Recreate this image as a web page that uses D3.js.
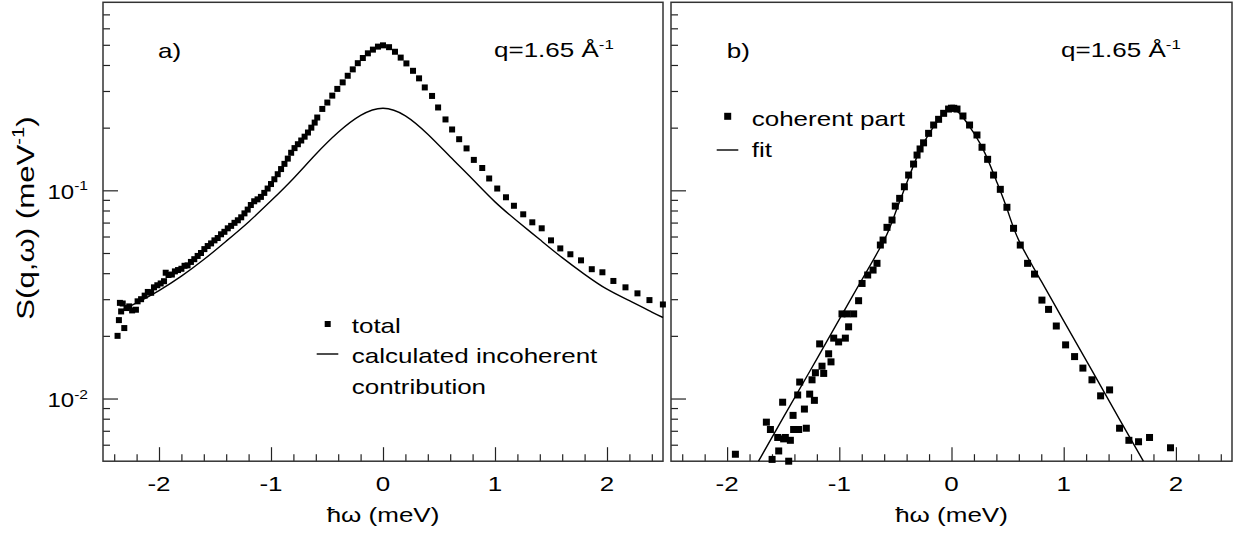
<!DOCTYPE html>
<html>
<head>
<meta charset="utf-8">
<script src="https://cdn.jsdelivr.net/npm/d3@7/dist/d3.min.js"></script>
<style>
  body { margin: 0; background: #fff; }
  svg { display: block; font-family: "Liberation Sans", Arial, sans-serif; }
</style>
</head>
<body>
<div id="chart-area"></div>
<script>
const WIDTH = 1250;
const HEIGHT = 538;
const TOP = 2.3, BOTTOM = 461.2;
const FONT_SIZE = 20;
const TEXT_STRETCH = 1.3;   // the original lettering is wide

// panel a) -- measured total S(q,w)
const totalOmega = [
  -2.370, -2.358, -2.349, -2.338, -2.324, -2.310, -2.290, -2.266, -2.240, -2.206,
  -2.191, -2.160, -2.128, -2.100, -2.070, -2.045, -2.015, -1.985, -1.955, -1.940,
  -1.915, -1.885, -1.858, -1.830, -1.800, -1.772, -1.745, -1.715, -1.685, -1.655,
  -1.625, -1.595, -1.565, -1.535, -1.505, -1.476, -1.446, -1.416, -1.386, -1.356,
  -1.326, -1.296, -1.266, -1.237, -1.208, -1.180, -1.150, -1.120, -1.090, -1.060,
  -1.030, -1.000, -0.970, -0.940, -0.910, -0.880, -0.850, -0.820, -0.790, -0.760,
  -0.730, -0.700, -0.670, -0.640, -0.610, -0.587, -0.542, -0.497, -0.453, -0.408,
  -0.360, -0.315, -0.270, -0.225, -0.180, -0.135, -0.090, -0.045, 0.000,
  0.054, 0.107, 0.158, 0.209, 0.268, 0.322, 0.373, 0.438, 0.492, 0.558,
  0.617, 0.680, 0.746, 0.811, 0.886, 0.948, 1.020, 1.098, 1.169, 1.252,
  1.333, 1.417, 1.500, 1.583, 1.673, 1.768, 1.864, 1.959, 2.057, 2.165,
  2.272, 2.379, 2.499
];
const totalS = [
  0.0200, 0.0238, 0.0288, 0.0262, 0.0286, 0.0218, 0.0272, 0.0277, 0.0265, 0.0267,
  0.0293, 0.0300, 0.0312, 0.0325, 0.0322, 0.0342, 0.0350, 0.0357, 0.0366, 0.0402,
  0.0392, 0.0394, 0.0408, 0.0414, 0.0420, 0.0434, 0.0436, 0.0453, 0.0467, 0.0484,
  0.0500, 0.0522, 0.0540, 0.0556, 0.0575, 0.0590, 0.0615, 0.0632, 0.0657, 0.0675,
  0.0698, 0.0718, 0.0742, 0.0775, 0.0808, 0.0850, 0.0886, 0.0905, 0.0930, 0.0972,
  0.1020, 0.1072, 0.1130, 0.1195, 0.1265, 0.1340, 0.1420, 0.1515, 0.1595, 0.1665,
  0.1735, 0.1810, 0.1895, 0.2000, 0.2115, 0.2237, 0.2460, 0.2640, 0.2850, 0.3070,
  0.3300, 0.3550, 0.3810, 0.4080, 0.4320, 0.4550, 0.4740, 0.4900, 0.4970,
  0.487, 0.463, 0.434, 0.407, 0.375, 0.345, 0.312, 0.284, 0.250, 0.219,
  0.196, 0.176, 0.159, 0.140, 0.128, 0.114, 0.102, 0.0926, 0.0843, 0.0767,
  0.0702, 0.0657, 0.0575, 0.0526, 0.0493, 0.0461, 0.0418, 0.0404, 0.0367, 0.0342,
  0.0320, 0.0297, 0.0283
];

// panel a) -- calculated incoherent contribution
const incOmega = [-2.35, -2.2, -2.0, -1.8, -1.6, -1.4, -1.2, -1.0, -0.8, -0.6, -0.4, -0.2,
  0, 0.2, 0.4, 0.6, 0.8, 1.0, 1.2, 1.4, 1.6, 1.8, 2.0, 2.2, 2.4, 2.5];
const incS = [0.0262, 0.0288, 0.0330, 0.0387, 0.0465, 0.0570, 0.0705, 0.0890, 0.1140, 0.1490, 0.1900, 0.2290,
  0.2480, 0.2280, 0.1860, 0.1450, 0.1130, 0.0880, 0.0710, 0.0580, 0.0475, 0.0395, 0.0335, 0.0295, 0.0260, 0.0245];

// panel b) -- coherent part
const cohOmega = [
  -1.926, -1.650, -1.614, -1.599, -1.549, -1.540, -1.505, -1.496, -1.481, -1.451,
  -1.436, -1.412, -1.407, -1.371, -1.362, -1.353, -1.311, -1.294, -1.264, -1.243,
  -1.222, -1.213, -1.175, -1.154, -1.139, -1.095, -1.074, -1.050, -1.006, -0.976,
  -0.946, -0.931, -0.917, -0.872, -0.828, -0.797, -0.747, -0.699, -0.664, -0.634,
  -0.610, -0.575, -0.530, -0.501, -0.462, -0.420, -0.382, -0.338, -0.307, -0.280,
  -0.249, -0.204, -0.159, -0.115, -0.070, -0.026, 0.000, 0.020,
  0.049, 0.102, 0.161, 0.227, 0.272, 0.322, 0.375, 0.435, 0.494, 0.553,
  0.613, 0.678, 0.740, 0.806, 0.865, 0.934, 1.017, 1.097, 1.171, 1.252,
  1.329, 1.409, 1.498, 1.581, 1.667, 1.765, 1.952
];
const cohS = [
  0.0054, 0.0077, 0.0071, 0.0051, 0.0065, 0.0056, 0.0096, 0.0064, 0.0065, 0.0050,
  0.0063, 0.0083, 0.0071, 0.0104, 0.0071, 0.0120, 0.0089, 0.0072, 0.0105, 0.0123,
  0.0098, 0.0133, 0.0183, 0.0143, 0.0132, 0.0164, 0.0150, 0.0195, 0.0187, 0.0255,
  0.0195, 0.0255, 0.0221, 0.0255, 0.0295, 0.0357, 0.0392, 0.0414, 0.0446, 0.0546,
  0.0577, 0.0664, 0.0720, 0.0840, 0.0915, 0.1040, 0.1184, 0.1337, 0.1477, 0.1580,
  0.1691, 0.1878, 0.2059, 0.2193, 0.2343, 0.2457, 0.2480, 0.2477,
  0.2457, 0.2275, 0.2059, 0.1844, 0.1610, 0.1409, 0.1184, 0.1011, 0.0829, 0.0657,
  0.0546, 0.0446, 0.0396, 0.0297, 0.0268, 0.0223, 0.0181, 0.0159, 0.0140, 0.0123,
  0.0103, 0.0110, 0.0072, 0.0063, 0.0062, 0.0065, 0.0058
];

// panel b) -- fit
const fitOmega = [-1.72, -1.5, -1.25, -1.0, -0.8, -0.6, -0.5, -0.4, -0.3, -0.2, -0.1, -0.05, 0,
  0.05, 0.1, 0.2, 0.3, 0.4, 0.5, 0.6, 0.8, 1.0, 1.25, 1.5, 1.71];
const fitS = [0.0050, 0.0081, 0.0139, 0.0240, 0.0371, 0.0577, 0.078, 0.108, 0.148, 0.187, 0.224, 0.240, 0.247,
  0.240, 0.225, 0.188, 0.150, 0.111, 0.080, 0.0575, 0.0366, 0.0236, 0.0137, 0.0079, 0.0050];

const xMajorTicks = [-2, -1, 0, 1, 2];
const xMinorTicks = [-2.4, -2.2, -1.8, -1.6, -1.4, -1.2, -0.8, -0.6, -0.4, -0.2,
  0.2, 0.4, 0.6, 0.8, 1.2, 1.4, 1.6, 1.8, 2.2, 2.4];
const yMajorTicks = [0.01, 0.1];
const yMinorTicks = [0.006, 0.007, 0.008, 0.009, 0.02, 0.03, 0.04, 0.05, 0.06, 0.07, 0.08, 0.09,
  0.2, 0.3, 0.4, 0.5, 0.6, 0.7];
const yTickLabels = [{v: 0.01, exp: "-2"}, {v: 0.1, exp: "-1"}];

const panels = [
  {name: "a)", x0: 103, x1: 663, pts: d3.zip(totalOmega, totalS), line: d3.zip(incOmega, incS), size: 6,
   legend: {sq: [327.7, 324], line: [316.7, 338.3, 354],
            rows: [["total", 332.5], ["calculated incoherent", 363.3], ["contribution", 394]], tx: 351.7}},
  {name: "b)", x0: 671, x1: 1232, pts: d3.zip(cohOmega, cohS), line: d3.zip(fitOmega, fitS), size: 7,
   legend: {sq: [727.7, 116.3], line: [716.7, 738.3, 150],
            rows: [["coherent part", 126], ["fit", 156.7]], tx: 751.7}}
];

const svg = d3.select('#chart-area').append('svg')
    .attr("width", WIDTH)
    .attr("height", HEIGHT);

svg.append("rect").attr("width", WIDTH).attr("height", HEIGHT).attr("fill", "#fff");

const y = d3.scaleLog().domain([0.005, 0.8]).range([BOTTOM, TOP]);

// text with optional superscripts, stretched sideways like the original
function addLabel(parent, px, py, parts, opts = {}) {
    const size = opts.size || FONT_SIZE;
    const sx = opts.stretch || TEXT_STRETCH;
    const t = parent.append("text")
        .attr("transform", `translate(${px},${py}) rotate(${opts.rotate || 0}) scale(${sx},1)`)
        .attr("text-anchor", opts.anchor || "start")
        .attr("font-size", size)
        .attr("fill", "#000");
    let raised = false;
    parts.forEach(p => {
        const ts = t.append("tspan").text(p.text);
        if (p.sup) {
            ts.attr("font-size", size * 0.65).attr("dy", -size * 0.42);
            raised = true;
        } else if (raised) {
            ts.attr("dy", size * 0.42);
            raised = false;
        }
    });
    return t;
}

panels.forEach((p, i) => {
    const x = d3.scaleLinear().domain([-2.5, 2.5]).range([p.x0, p.x1]);
    const g = svg.append("g");

    // ticks, pointing inwards
    g.append("g").attr("transform", `translate(0,${BOTTOM})`)
        .call(d3.axisBottom(x).tickValues(xMinorTicks).tickSize(-7).tickFormat(""));
    g.append("g").attr("transform", `translate(0,${BOTTOM})`)
        .call(d3.axisBottom(x).tickValues(xMajorTicks).tickSize(-14).tickFormat(""));
    g.append("g").attr("transform", `translate(${p.x0},0)`)
        .call(d3.axisLeft(y).tickValues(yMinorTicks).tickSize(-7).tickFormat(""));
    g.append("g").attr("transform", `translate(${p.x0},0)`)
        .call(d3.axisLeft(y).tickValues(yMajorTicks).tickSize(-15).tickFormat(""));
    g.selectAll(".domain").remove();
    g.selectAll(".tick line").attr("stroke", "#222").attr("stroke-width", 1.2);

    g.append("rect")
        .attr("x", p.x0).attr("y", TOP)
        .attr("width", p.x1 - p.x0).attr("height", BOTTOM - TOP)
        .attr("fill", "none").attr("stroke", "#333").attr("stroke-width", 1.5);

    xMajorTicks.forEach(v => addLabel(g, x(v), 490.5, [{text: String(v)}], {anchor: "middle"}));
    addLabel(g, (p.x0 + p.x1) / 2, 521.5, [{text: "ħω (meV)"}], {anchor: "middle"});

    if (i === 0) {
        yTickLabels.forEach(d => addLabel(g, 88, y(d.v) + 8.5,
            [{text: "10"}, {text: d.exp, sup: true}], {anchor: "end", stretch: 1.2}));
        addLabel(g, 34, 218, [{text: "S(q,ω) (meV"}, {text: "-1", sup: true}, {text: ")"}],
            {anchor: "middle", rotate: -90, size: 24, stretch: 1.3});
    }

    addLabel(g, i === 0 ? 158 : 726.7, 57.5, [{text: p.name}]);
    addLabel(g, i === 0 ? 494 : 1061, 57.3, [{text: "q=1.65 Å"}, {text: "-1", sup: true}]);

    // curve
    const line = d3.line()
        .x(d => x(d[0]))
        .y(d => y(d[1]))
        .curve(d3.curveNatural);
    g.append("path")
        .attr("d", line(p.line))
        .attr("fill", "none").attr("stroke", "#000").attr("stroke-width", 1.4);

    // data squares
    g.append("g").selectAll("rect")
        .data(p.pts)
        .join("rect")
        .attr("x", d => x(d[0]) - p.size / 2)
        .attr("y", d => y(d[1]) - p.size / 2)
        .attr("width", p.size).attr("height", p.size)
        .attr("fill", "#000");

    // legend
    const lg = p.legend;
    g.append("rect")
        .attr("x", lg.sq[0] - p.size / 2).attr("y", lg.sq[1] - p.size / 2)
        .attr("width", p.size).attr("height", p.size).attr("fill", "#000");
    g.append("line")
        .attr("x1", lg.line[0]).attr("x2", lg.line[1])
        .attr("y1", lg.line[2]).attr("y2", lg.line[2])
        .attr("stroke", "#000").attr("stroke-width", 1.4);
    lg.rows.forEach(r => addLabel(g, lg.tx, r[1], [{text: r[0]}]));
});
</script>
</body>
</html>
